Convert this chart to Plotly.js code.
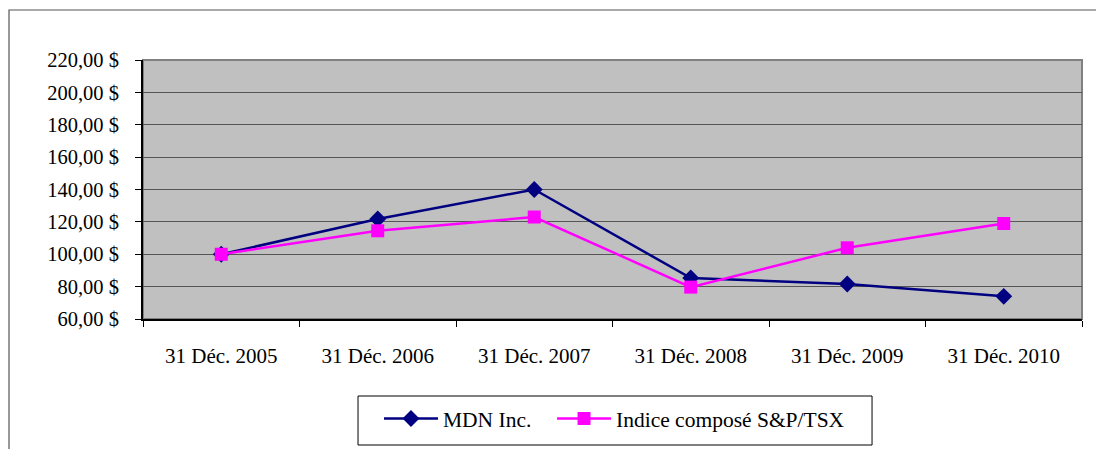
<!DOCTYPE html>
<html>
<head>
<meta charset="utf-8">
<script src="https://cdn.plot.ly/plotly-3.0.1.min.js"></script>
<style>html,body{margin:0;padding:0;background:#fff;}#chart{width:1096px;height:449px;}</style>
</head>
<body>
<div id="chart"></div>
<script>
const categories = ["31 Déc. 2005", "31 Déc. 2006", "31 Déc. 2007", "31 Déc. 2008", "31 Déc. 2009", "31 Déc. 2010"];
const mdnValues = [100, 121.8, 140, 85.3, 81.6, 74];
const tsxValues = [100, 114.5, 123, 79.7, 104, 119];
const seriesNames = ["MDN Inc.", "Indice composé S&P/TSX"];

const traces = [
  {
    x: categories, y: mdnValues, name: seriesNames[0], type: "scatter", mode: "lines+markers",
    legend: "legend",
    line: {color: "#000080", width: 2.5},
    marker: {symbol: "diamond", size: 13, color: "#000080"}
  },
  {
    x: categories, y: tsxValues, name: seriesNames[1], type: "scatter", mode: "lines+markers",
    legend: "legend2",
    line: {color: "#ff00ff", width: 2.5},
    marker: {symbol: "square", size: 13, color: "#ff00ff"}
  }
];

const legendFont = {family: "Liberation Serif", size: 21.5, color: "#000"};

const layout = {
  width: 1096, height: 449,
  margin: {l: 143, r: 14, t: 60, b: 130, autoexpand: false},
  paper_bgcolor: "#ffffff",
  plot_bgcolor: "#c0c0c0",
  separators: ", ",
  font: {family: "Liberation Serif", color: "#000", size: 21},
  showlegend: true,
  legend: {
    orientation: "h", x: 0.2513, xanchor: "left", y: -0.305, yanchor: "top",
    borderwidth: 0, bgcolor: "rgba(0,0,0,0)", font: legendFont, itemwidth: 54
  },
  legend2: {
    orientation: "h", x: 0.4356, xanchor: "left", y: -0.305, yanchor: "top",
    borderwidth: 0, bgcolor: "rgba(0,0,0,0)", font: legendFont, itemwidth: 54
  },
  xaxis: {
    type: "category", range: [-0.5, 5.5], tickson: "boundaries",
    ticks: "outside", ticklen: 6, tickcolor: "#000",
    showline: true, linecolor: "#000", linewidth: 1.5,
    showgrid: false, zeroline: false, fixedrange: true, automargin: false,
    ticklabelstandoff: 17,
    tickfont: {family: "Liberation Serif", size: 21, color: "#000"}
  },
  yaxis: {
    range: [60, 220], dtick: 20, tick0: 60,
    tickformat: ".2f", ticksuffix: " $",
    ticks: "outside", ticklen: 6, tickcolor: "#000",
    showline: true, linecolor: "#000", linewidth: 2,
    showgrid: true, gridcolor: "#555555", gridwidth: 1,
    zeroline: false, fixedrange: true, automargin: false,
    ticklabelstandoff: 12,
    tickfont: {family: "Liberation Serif", size: 20.5, color: "#000"}
  },
  shapes: [
    {type: "rect", xref: "paper", yref: "paper", x0: 0, x1: 1, y0: 0, y1: 1,
     line: {color: "#808080", width: 2}, layer: "below"},
    {type: "rect", xref: "paper", yref: "paper", x0: -0.1427, x1: 1.05, y0: -0.6, y1: 1.193,
     line: {color: "#555555", width: 1.2}, layer: "above"},
    {type: "rect", xref: "paper", yref: "paper", x0: 0.229, x1: 0.7764, y0: -0.4865, y1: -0.2973,
     line: {color: "#000000", width: 1}, fillcolor: "#ffffff", layer: "below"}
  ]
};

Plotly.newPlot("chart", traces, layout, {displayModeBar: false, staticPlot: true});
</script>
</body>
</html>
